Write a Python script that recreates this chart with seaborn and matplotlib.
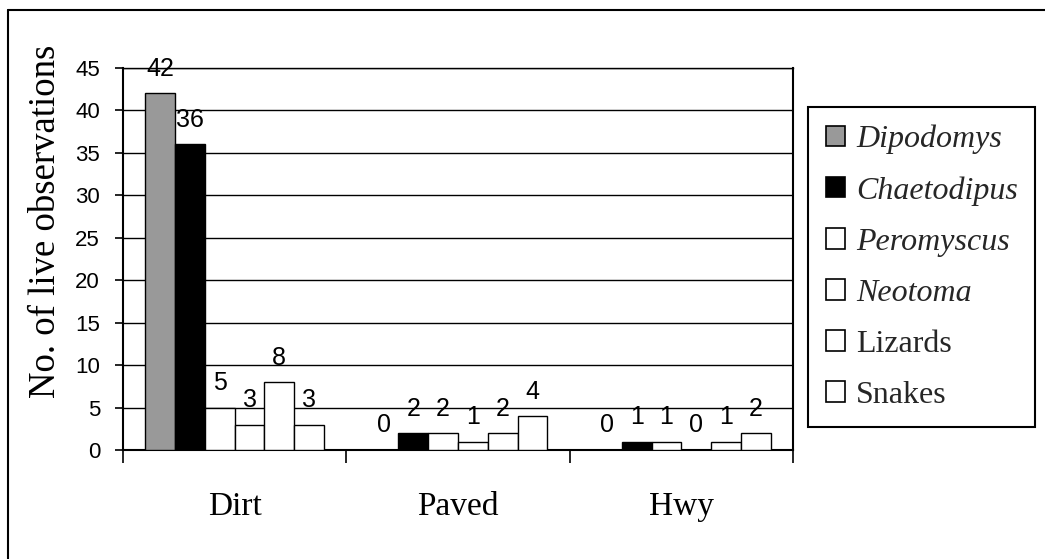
import matplotlib
matplotlib.use("Agg")
import matplotlib.pyplot as plt
from matplotlib.patches import Patch
from matplotlib.lines import Line2D
import seaborn as sns
import pandas as pd

# Road types and the species/groups observed alive on each
road_types = ["Dirt", "Paved", "Hwy"]
taxa = ["Dipodomys", "Chaetodipus", "Peromyscus", "Neotoma", "Lizards", "Snakes"]
italic_taxa = ["Dipodomys", "Chaetodipus", "Peromyscus", "Neotoma"]

dipodomys = [42, 0, 0]
chaetodipus = [36, 2, 1]
peromyscus = [5, 2, 1]
neotoma = [3, 1, 0]
lizards = [8, 2, 1]
snakes = [3, 4, 2]

y_ticks = [0, 5, 10, 15, 20, 25, 30, 35, 40, 45]
y_label = "No. of live observations"

fill_colors = ["#999999", "#000000", "#ffffff", "#ffffff", "#ffffff", "#ffffff"]

series = [dipodomys, chaetodipus, peromyscus, neotoma, lizards, snakes]
rows = []
for name, vals in zip(taxa, series):
    for road, v in zip(road_types, vals):
        rows.append({"road": road, "taxon": name, "count": v})
df = pd.DataFrame(rows)

sns.set_theme(style="white")
plt.rcParams["font.family"] = ["Liberation Sans", "DejaVu Sans"]

fig = plt.figure(figsize=(10.45, 5.59), dpi=100)
ax = fig.add_axes([123 / 1045, 1 - 450 / 559, (793 - 123) / 1045, (450 - 68) / 559])

sns.barplot(data=df, x="road", y="count", hue="taxon", order=road_types,
            hue_order=taxa, palette=fill_colors, edgecolor="black",
            linewidth=1.0, width=0.8, saturation=1, legend=False, ax=ax,
            zorder=3)

# value labels above each bar
for cont in ax.containers:
    ax.bar_label(cont, labels=[f"{int(b.get_height())}" for b in cont],
                 padding=9, fontsize=18, color="black",
                 fontfamily="Liberation Sans")

ax.set_ylim(0, 45)
ax.set_xlim(-0.5, 2.5)
ax.set_yticks(y_ticks)
ax.set_yticklabels([str(t) for t in y_ticks], fontsize=16, color="black")
ax.tick_params(axis="y", direction="out", length=6, width=1.2, pad=10.5,
               left=True, color="black")

# category boundaries as major ticks, names as minor ticks
ax.set_xticks([-0.5, 0.5, 1.5, 2.5])
ax.set_xticklabels([])
ax.set_xticks([0, 1, 2], minor=True)
ax.set_xticklabels(road_types, minor=True, fontsize=24,
                   fontfamily="Liberation Serif", color="black")
ax.tick_params(axis="x", which="major", direction="out", length=9,
               width=1.2, bottom=True, color="black")
ax.tick_params(axis="x", which="minor", length=0, pad=30)

ax.set_xlabel("")
ax.set_ylabel("")
ax.grid(axis="y", color="black", linewidth=1.0, zorder=1)
ax.grid(axis="x", visible=False)
ax.set_axisbelow(True)

for side in ["left", "bottom", "right", "top"]:
    ax.spines[side].set_visible(True)
    ax.spines[side].set_color("black")
ax.spines["left"].set_linewidth(1.5)
ax.spines["bottom"].set_linewidth(1.5)
ax.spines["right"].set_linewidth(1.5)
ax.spines["top"].set_linewidth(1.0)

fig.text(46 / 1045, 1 - 221 / 559, y_label, rotation=90, ha="center",
         va="center", fontsize=26.5, fontfamily="Liberation Serif",
         color="black")

# legend
handles = [Patch(facecolor=c, edgecolor="black", linewidth=1.2)
           for c in fill_colors]
leg = fig.legend(handles, taxa, loc="upper left",
                 bbox_to_anchor=(808 / 1045, 1 - 107 / 559),
                 bbox_transform=fig.transFigure,
                 prop={"family": "Liberation Serif", "size": 23},
                 frameon=True, fancybox=False, edgecolor="black",
                 framealpha=1, borderpad=0.55, labelspacing=0.69,
                 handlelength=0.6, handleheight=0.6, handletextpad=0.35,
                 borderaxespad=0)
leg.get_frame().set_linewidth(1.5)
for t in leg.get_texts():
    if t.get_text() in italic_taxa:
        t.set_style("italic")

# outer chart frame (left and top edges visible)
x0 = 8 / 1045
y0 = 1 - 10 / 559
fig.add_artist(Line2D([x0, x0], [0, y0], transform=fig.transFigure,
                      color="black", linewidth=1.5))
fig.add_artist(Line2D([x0, 1], [y0, y0], transform=fig.transFigure,
                      color="black", linewidth=1.5))

fig.savefig("out.png", dpi=100, facecolor="white")
